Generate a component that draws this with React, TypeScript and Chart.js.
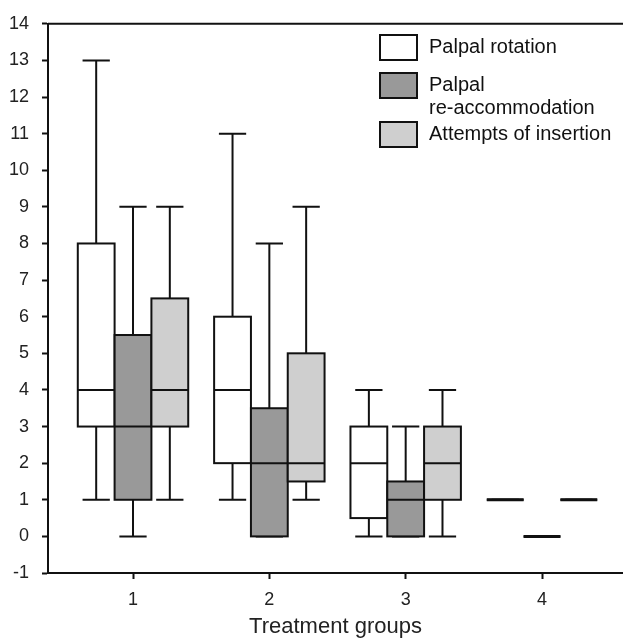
import React, { useEffect, useRef } from "react";
import { Chart, registerables } from "chart.js";

Chart.register(...registerables);

const groups = [1, 2, 3, 4];
const xTickValues = [1, 2, 3, 4];
const yTickMin = -1;
const yTickMax = 14;

const seriesNames = ["Palpal rotation", "Palpal\nre-accommodation", "Attempts of insertion"];

const rotationMin = [1, 1, 0, 1];
const rotationQ1 = [3, 2, 0.5, 1];
const rotationMedian = [4, 4, 2, 1];
const rotationQ3 = [8, 6, 3, 1];
const rotationMax = [13, 11, 4, 1];

const reaccMin = [0, 0, 0, 0];
const reaccQ1 = [1, 0, 0, 0];
const reaccMedian = [3, 2, 1, 0];
const reaccQ3 = [5.5, 3.5, 1.5, 0];
const reaccMax = [9, 8, 3, 0];

const attemptsMin = [1, 1, 0, 1];
const attemptsQ1 = [3, 1.5, 1, 1];
const attemptsMedian = [4, 2, 2, 1];
const attemptsQ3 = [6.5, 5, 3, 1];
const attemptsMax = [9, 9, 4, 1];

const seriesStats = [
  { min: rotationMin, q1: rotationQ1, med: rotationMedian, q3: rotationQ3, max: rotationMax },
  { min: reaccMin, q1: reaccQ1, med: reaccMedian, q3: reaccQ3, max: reaccMax },
  { min: attemptsMin, q1: attemptsQ1, med: attemptsMedian, q3: attemptsQ3, max: attemptsMax },
];

const seriesFill = ["#ffffff", "#999999", "#cfcfcf"];
const seriesOffset = [-0.27, 0, 0.27];
const BOX_W = 0.27;
const CAP_W = 0.2;
const FONT = "'Liberation Sans', Arial, Helvetica, sans-serif";

const boxPlugin = {
  id: "boxPlugin",
  beforeDatasetsDraw(chart: any) {
    const { ctx, chartArea } = chart;
    const xs = chart.scales.x;
    const ys = chart.scales.y;
    ctx.save();
    // top frame line
    ctx.strokeStyle = "#111";
    ctx.lineWidth = 2;
    ctx.beginPath();
    ctx.moveTo(chartArea.left, chartArea.top);
    ctx.lineTo(chartArea.right, chartArea.top);
    ctx.stroke();

    chart.data.datasets.forEach((ds: any, si: number) => {
      const st = seriesStats[si];
      groups.forEach((g, gi) => {
        const cx = g + seriesOffset[si];
        const xl = xs.getPixelForValue(cx - BOX_W / 2);
        const xr = xs.getPixelForValue(cx + BOX_W / 2);
        const xc = xs.getPixelForValue(cx);
        const cl = xs.getPixelForValue(cx - CAP_W / 2);
        const cr = xs.getPixelForValue(cx + CAP_W / 2);
        const yMin = ys.getPixelForValue(st.min[gi]);
        const yQ1 = ys.getPixelForValue(st.q1[gi]);
        const yMed = ys.getPixelForValue(st.med[gi]);
        const yQ3 = ys.getPixelForValue(st.q3[gi]);
        const yMax = ys.getPixelForValue(st.max[gi]);
        ctx.strokeStyle = "#111";
        ctx.lineWidth = 2;
        // whiskers
        ctx.beginPath();
        ctx.moveTo(xc, yQ3);
        ctx.lineTo(xc, yMax);
        ctx.moveTo(cl, yMax);
        ctx.lineTo(cr, yMax);
        ctx.moveTo(xc, yQ1);
        ctx.lineTo(xc, yMin);
        ctx.moveTo(cl, yMin);
        ctx.lineTo(cr, yMin);
        ctx.stroke();
        // box
        if (yQ1 - yQ3 > 0.5) {
          ctx.fillStyle = ds.backgroundColor;
          ctx.fillRect(xl, yQ3, xr - xl, yQ1 - yQ3);
          ctx.strokeRect(xl, yQ3, xr - xl, yQ1 - yQ3);
        } else {
          ctx.lineWidth = 3;
          ctx.beginPath();
          ctx.moveTo(xl, yQ1);
          ctx.lineTo(xr, yQ1);
          ctx.stroke();
          ctx.lineWidth = 2;
        }
        // median
        ctx.beginPath();
        ctx.moveTo(xl, yMed);
        ctx.lineTo(xr, yMed);
        ctx.stroke();
      });
    });

    // legend
    const legendX = 380;
    const rectW = 37;
    const rectH = 25;
    const rows = [
      { y: 35, lines: seriesNames[0].split("\n") },
      { y: 73, lines: seriesNames[1].split("\n") },
      { y: 122, lines: seriesNames[2].split("\n") },
    ];
    ctx.font = `20px ${FONT}`;
    ctx.textBaseline = "middle";
    ctx.textAlign = "left";
    rows.forEach((r, i) => {
      ctx.fillStyle = seriesFill[i];
      ctx.fillRect(legendX, r.y, rectW, rectH);
      ctx.strokeStyle = "#111";
      ctx.lineWidth = 2;
      ctx.strokeRect(legendX, r.y, rectW, rectH);
      ctx.fillStyle = "#111";
      r.lines.forEach((t, li) => {
        ctx.fillText(t, legendX + 49, r.y + 12 + li * 23);
      });
    });
    ctx.restore();
  },
};

export default function App() {
  const ref = useRef<HTMLCanvasElement | null>(null);
  useEffect(() => {
    document.body.style.margin = "0";
    if (!ref.current) return;
    const chart = new Chart(ref.current, {
      type: "scatter",
      data: {
        datasets: seriesStats.map((st, si) => ({
          label: seriesNames[si],
          data: groups.map((g, gi) => ({ x: g + seriesOffset[si], y: st.med[gi] })),
          backgroundColor: seriesFill[si],
          pointRadius: 0,
          pointHoverRadius: 0,
        })),
      },
      options: {
        animation: false,
        responsive: false,
        events: [],
        layout: { padding: { top: 18, right: 0, left: 0, bottom: 0 } },
        plugins: { legend: { display: false }, tooltip: { enabled: false } },
        scales: {
          x: {
            type: "linear",
            min: 0.3765,
            max: 4.594,
            afterBuildTicks: (s: any) => {
              s.ticks = xTickValues.map((v) => ({ value: v }));
            },
            afterFit: (s: any) => {
              s.height = 68;
            },
            grid: {
              drawOnChartArea: false,
              drawTicks: true,
              tickLength: 6,
              tickColor: "#111",
              tickWidth: 2,
            },
            border: { color: "#111", width: 2 },
            ticks: {
              font: { size: 18, family: FONT },
              color: "#222",
              padding: 10,
              callback: (v: any) => String(v),
            },
            title: {
              display: true,
              text: "Treatment groups",
              font: { size: 22, family: FONT },
              color: "#222",
              padding: { top: 0, bottom: 1 },
            },
          },
          y: {
            type: "linear",
            min: yTickMin,
            max: yTickMax,
            afterFit: (s: any) => {
              s.width = 48;
            },
            grid: {
              drawOnChartArea: false,
              drawTicks: true,
              tickLength: 6,
              tickColor: "#111",
              tickWidth: 2,
            },
            border: { color: "#111", width: 2 },
            ticks: {
              stepSize: 1,
              font: { size: 18, family: FONT },
              color: "#222",
              padding: 13,
            },
          },
        },
      },
      plugins: [boxPlugin],
    });
    return () => chart.destroy();
  }, []);
  return (
    <div style={{ width: 623, height: 641 }}>
      <canvas ref={ref} width={623} height={641} style={{ display: "block" }} />
    </div>
  );
}
